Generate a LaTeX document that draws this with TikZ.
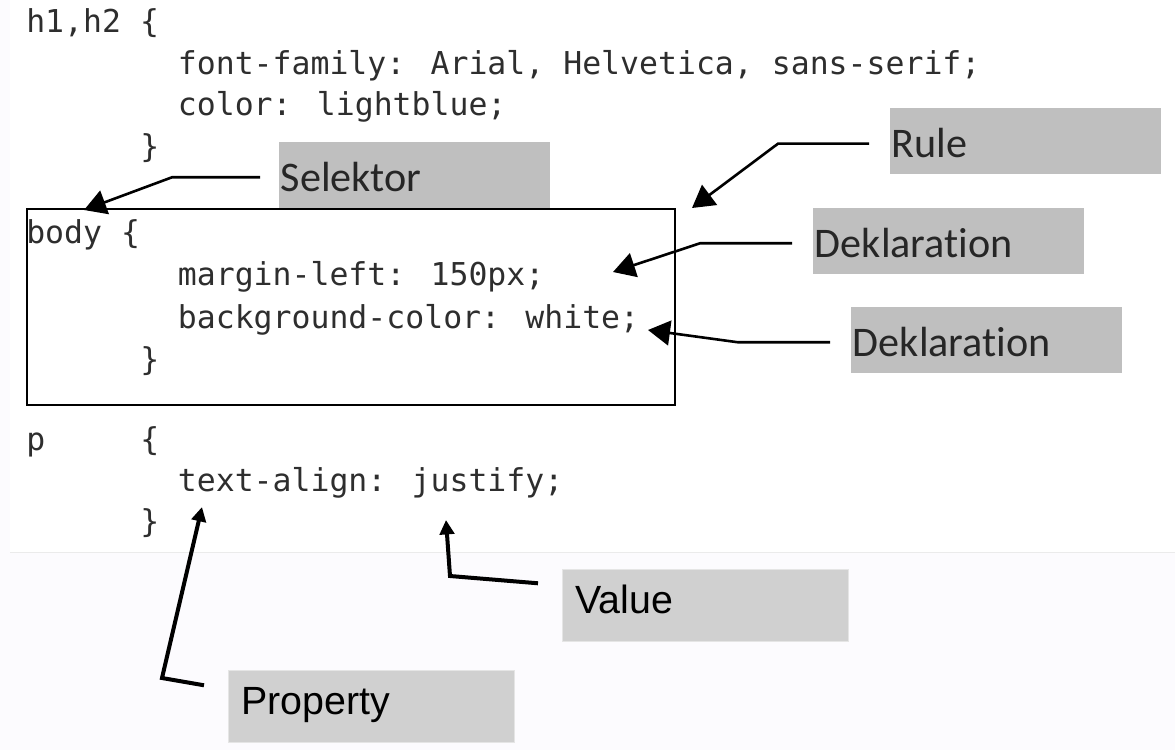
\documentclass[tikz,border=0pt]{standalone}
\usepackage{fontspec}
\usepackage{tikz}
\usetikzlibrary{arrows.meta,positioning,calc}
\newfontfamily\codefont{DejaVu Sans Mono}
\newfontfamily\labfont{Carlito}[Ligatures={NoCommon,NoRequired,NoContextual}]
\newfontfamily\valfont{Liberation Sans}
\definecolor{codegray}{HTML}{2E2E2E}
\definecolor{labgray}{HTML}{BFBFBF}
\definecolor{valgray}{HTML}{D0D0D0}
\definecolor{lowbg}{HTML}{FCFBFE}
% keep t and i apart in Carlito
\newcommand{\deklaration}{Deklarat\kern0pt ion}

\begin{document}
\begin{tikzpicture}[
  code/.style={anchor=base west, inner sep=0pt, text=codegray, font=\codefont\fontsize{22.4}{26}\selectfont},
  lab/.style={anchor=north west, fill=labgray, text=black!85, inner xsep=0.04cm, inner ysep=0pt,
    text width=6.7cm, minimum height=1.65cm, align=left, text height=0.8cm, text depth=0pt,
    font=\labfont\fontsize{30}{34}\selectfont},
  lab2/.style={anchor=north west, fill=valgray, draw=black!10, inner xsep=0.33cm, inner ysep=0pt,
    text width=6.5cm, minimum height=1.8cm, align=left, text height=0.7cm, text depth=0.27cm,
    font=\valfont\fontsize{28}{32}\selectfont},
  ptr/.style={-{Triangle[length=0.55cm, width=0.62cm]}, line width=0.065cm},
  ptr2/.style={-{Triangle[length=0.36cm, width=0.36cm]}, line width=0.1cm}]
\useasboundingbox (0,0) rectangle (29.375,-18.75);
% background
\fill[lowbg] (0,0) rectangle (29.375,-18.75);
\fill[white] (0.25,0) rectangle (29.375,-13.8);
\draw[black!8] (0.25,-13.8) -- (29.375,-13.8);
% css code
\node[code] (h1) at (0.65,-0.8) {h1,h2 \{};
\node[code] (h2) at (4.44,-1.85) {font-family: Arial, Helvetica, sans-serif;};
\node[code] (h3) at (4.44,-2.875) {color: lightblue;};
\node[code] (h4) at (3.5,-3.925) {\}};
\node[code] (b1) at (0.65,-6.075) {body \{};
\node[code] (b2) at (4.44,-7.125) {margin-left: 150px;};
\node[code] (b3) at (4.44,-8.2) {background-color: white;};
\node[code] (b4) at (3.5,-9.25) {\}};
\node[code] (p1) at (0.65,-11.25) {p};
\node[code] (p1b) at (3.5,-11.25) {\{};
\node[code] (p2) at (4.44,-12.275) {text-align: justify;};
\node[code] (p4) at (3.5,-13.3) {\}};
\node[draw, line width=0.04cm, anchor=north west, minimum width=16.2cm, minimum height=4.9cm] (regel) at (0.65,-5.2) {};
% labels
\node[lab] (sel) at (6.975,-3.55) {Selektor};
\node[lab] (rule) at (22.25,-2.7) {Rule};
\node[lab] (dek1) at (20.325,-5.2) {\deklaration};
\node[lab] (dek2) at (21.275,-7.675) {\deklaration};
\node[lab2] (val) at (14.05,-14.225) {Value};
\node[lab2] (prop) at (5.7,-16.75) {Property};
\coordinate (tsel) at (2.1,-5.25);
\coordinate (trule) at (17.3,-5.2);
\coordinate (tdek1) at (15.325,-6.8);
\coordinate (tdek2) at (16.2,-8.25);
\coordinate (tval) at (11.15,-13.0);
\coordinate (tprop) at (5.05,-12.675);
% pointers
\draw[ptr] ([xshift=-0.475cm, yshift=-0.05cm]sel.west) -- ++(-2.2,0) -- (tsel);
\draw[ptr] ([xshift=-0.525cm, yshift=-0.06cm]rule.west) -- ++(-2.275,0) -- (trule);
\draw[ptr] ([xshift=-0.525cm, yshift=-0.05cm]dek1.west) -- ++(-2.3,0) -- (tdek1);
\draw[ptr] ([xshift=-0.525cm, yshift=-0.05cm]dek2.west) -- ++(-2.3,0) -- (tdek2);
\draw[ptr2] ([xshift=-0.6cm, yshift=0.55cm]val.west) -- (11.25,-14.4) -- (tval);
\draw[ptr2] ([xshift=-0.6cm, yshift=0.525cm]prop.west) -- (4.05,-16.95) -- (tprop);
\end{tikzpicture}
\end{document}
